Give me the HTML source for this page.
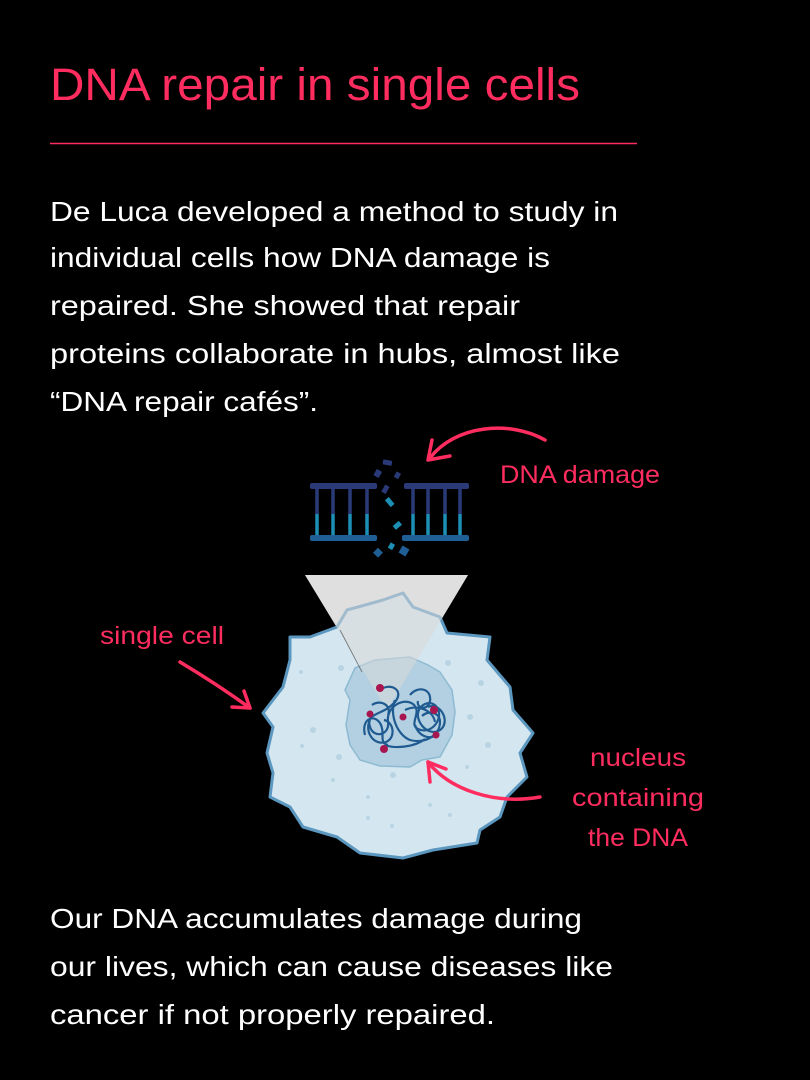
<!DOCTYPE html>
<html><head><meta charset="utf-8"><style>
html,body{margin:0;padding:0;background:#000;}
svg{display:block;}
text{font-family:"Liberation Sans",sans-serif;}
</style></head><body>
<svg width="810" height="1080" viewBox="0 0 810 1080" xmlns="http://www.w3.org/2000/svg">
<rect width="810" height="1080" fill="#000"/>
<text x="50" y="100" font-size="45" fill="#ff2d5f" textLength="530" lengthAdjust="spacingAndGlyphs">DNA repair in single cells</text>
<line x1="50" y1="143.5" x2="637" y2="143.5" stroke="#ff2d5f" stroke-width="1.5"/>
<g fill="#fff" font-size="28">
<text x="50" y="221" textLength="568" lengthAdjust="spacingAndGlyphs">De Luca developed a method to study in</text>
<text x="50" y="267" textLength="500" lengthAdjust="spacingAndGlyphs">individual cells how DNA damage is</text>
<text x="50" y="315" textLength="470" lengthAdjust="spacingAndGlyphs">repaired. She showed that repair</text>
<text x="50" y="363" textLength="570" lengthAdjust="spacingAndGlyphs">proteins collaborate in hubs, almost like</text>
<text x="50" y="411" textLength="268" lengthAdjust="spacingAndGlyphs">“DNA repair cafés”.</text>
<text x="50" y="928" textLength="532" lengthAdjust="spacingAndGlyphs">Our DNA accumulates damage during</text>
<text x="50" y="976" textLength="563" lengthAdjust="spacingAndGlyphs">our lives, which can cause diseases like</text>
<text x="50" y="1024" textLength="445" lengthAdjust="spacingAndGlyphs">cancer if not properly repaired.</text>
</g>
<g fill="#ff2d5f" font-size="25">
<text x="500" y="483" textLength="160" lengthAdjust="spacingAndGlyphs">DNA damage</text>
<text x="100" y="644" textLength="124" lengthAdjust="spacingAndGlyphs">single cell</text>
<text x="638" y="766" text-anchor="middle" textLength="96" lengthAdjust="spacingAndGlyphs">nucleus</text>
<text x="638" y="806" text-anchor="middle" textLength="132" lengthAdjust="spacingAndGlyphs">containing</text>
<text x="638" y="846" text-anchor="middle" textLength="100" lengthAdjust="spacingAndGlyphs">the DNA</text>
</g>
<!-- DNA -->
<g>
<rect x="310" y="483" width="67" height="6" rx="2" fill="#2a3a78"/>
<rect x="404" y="483" width="65" height="6" rx="2" fill="#2a3a78"/>
<rect x="310" y="535" width="67" height="6" rx="2" fill="#1f5f95"/>
<rect x="402" y="535" width="67" height="6" rx="2" fill="#1f5f95"/>
<g stroke-width="3.5">
<g stroke="#2a3a78"><line x1="317" y1="488" x2="317" y2="514"/><line x1="333" y1="488" x2="333" y2="514"/><line x1="350" y1="488" x2="350" y2="514"/><line x1="367" y1="488" x2="367" y2="514"/><line x1="413" y1="488" x2="413" y2="514"/><line x1="428" y1="488" x2="428" y2="514"/><line x1="445" y1="488" x2="445" y2="514"/><line x1="460" y1="488" x2="460" y2="514"/></g>
<g stroke="#1d8fb5"><line x1="317" y1="514" x2="317" y2="535"/><line x1="333" y1="514" x2="333" y2="535"/><line x1="350" y1="514" x2="350" y2="535"/><line x1="367" y1="514" x2="367" y2="535"/><line x1="413" y1="514" x2="413" y2="535"/><line x1="428" y1="514" x2="428" y2="535"/><line x1="445" y1="514" x2="445" y2="535"/><line x1="460" y1="514" x2="460" y2="535"/></g>
</g>
<g fill="#2a3a78"><rect x="383" y="460" width="9" height="5" transform="rotate(10 387 462)"/><rect x="375" y="470" width="6" height="7" transform="rotate(30 378 473)"/><rect x="395" y="472" width="5" height="6" transform="rotate(30 397 475)"/><rect x="383" y="485" width="5" height="8" transform="rotate(30 385 489)"/></g>
<g fill="#1d8fb5"><rect x="387" y="498" width="5" height="9" transform="rotate(-40 389 502)"/><rect x="393" y="523" width="8" height="5" transform="rotate(-40 397 525)"/><rect x="389" y="543" width="5" height="6" transform="rotate(30 391 546)"/></g>
<g fill="#1f5f95"><rect x="375" y="549" width="7" height="7" transform="rotate(45 378 552)"/><rect x="400" y="547" width="8" height="8" transform="rotate(30 404 551)"/></g>
</g>
<!-- triangle base (opaque part) -->
<polygon points="305,575 468,575 387,710" fill="#e6e6e6"/>
<!-- cell -->
<polygon points="403,593 413,607 440,617 447,633 490,637 487,660 510,687 513,710 533,733 520,753 527,777 507,797 500,817 480,830 477,843 433,850 403,858 360,853 337,837 303,827 290,807 270,797 273,773 267,753 273,727 263,713 283,687 290,660 290,637 310,637 337,627 347,610 383,600" fill="#d4e6f0" stroke="#5b97bf" stroke-width="3" stroke-linejoin="round"/>
<g fill="#b8d4e3"><circle cx="341" cy="668" r="3"/><circle cx="448" cy="663" r="3"/><circle cx="481" cy="683" r="3"/><circle cx="301" cy="672" r="2"/><circle cx="313" cy="730" r="3"/><circle cx="339" cy="757" r="3"/><circle cx="470" cy="717" r="3"/><circle cx="488" cy="745" r="3"/><circle cx="333" cy="780" r="2"/><circle cx="368" cy="797" r="2"/><circle cx="393" cy="775" r="3"/><circle cx="368" cy="818" r="2"/><circle cx="430" cy="805" r="2"/><circle cx="467" cy="767" r="2"/><circle cx="392" cy="826" r="2"/><circle cx="450" cy="815" r="2"/><circle cx="302" cy="746" r="2"/></g>
<!-- nucleus -->
<polygon points="355,668 375,660 410,657 428,665 440,672 452,690 455,712 452,735 440,757 422,760 410,767 380,766 360,760 350,745 346,725 350,700 345,690" fill="#a9cbdd" fill-opacity="0.8" stroke="#8dbad2" stroke-width="1.5"/>
<!-- triangle overlay -->
<polygon points="305,575 468,575 387,710" fill="#d8d8d8" fill-opacity="0.55"/>
<line x1="340" y1="630" x2="362" y2="672" stroke="#666" stroke-width="0.8"/>
<g fill="none" stroke="#1f5a90" stroke-width="2.2">
<path d="M380,690 c10,-8 25,0 15,12 c-12,14 -30,10 -25,25 c4,12 20,8 18,-5 c-2,-15 15,-25 25,-18 c10,8 -5,20 5,25 c12,6 25,-8 20,-20 c-6,-12 -22,-4 -20,8 c3,14 18,20 25,10 c6,-10 -5,-25 -15,-20"/>
<path d="M370,720 c-6,12 4,26 16,22 c10,-4 8,-20 -2,-22 M395,700 c-6,14 2,35 15,40 c14,4 30,-4 30,-18 c0,-10 -12,-12 -18,-6 M405,710 c12,-6 28,0 30,12 M385,745 c10,4 30,2 40,-6"/>
<path d="M365,735 c-4,-15 8,-22 15,-12 c6,10 -2,20 8,22 M410,695 c8,-10 22,-6 20,6 c-2,10 -14,8 -12,0 M415,725 c4,12 16,16 24,8 M372,705 c8,-6 20,0 16,10"/>
</g>
<g fill="#a8164f"><circle cx="380" cy="688" r="4"/><circle cx="434" cy="710" r="4"/><circle cx="370" cy="714" r="3.5"/><circle cx="403" cy="717" r="3.5"/><circle cx="436" cy="735" r="3.5"/><circle cx="384" cy="749" r="4"/></g>
<!-- arrows -->
<g fill="none" stroke="#ff2d5f" stroke-width="3.5" stroke-linecap="round" stroke-linejoin="round">
<path d="M545,440 C510,420 455,425 430,458"/>
<path d="M428,460 L432,440 M428,460 L450,456"/>
<path d="M180,662 C210,680 232,695 250,708"/>
<path d="M250,708 L232,707 M250,708 L244,691"/>
<path d="M540,797 C495,805 450,790 428,762"/>
<path d="M428,762 L430,782 M428,762 L446,769"/>
</g>
</svg>
</body></html>
